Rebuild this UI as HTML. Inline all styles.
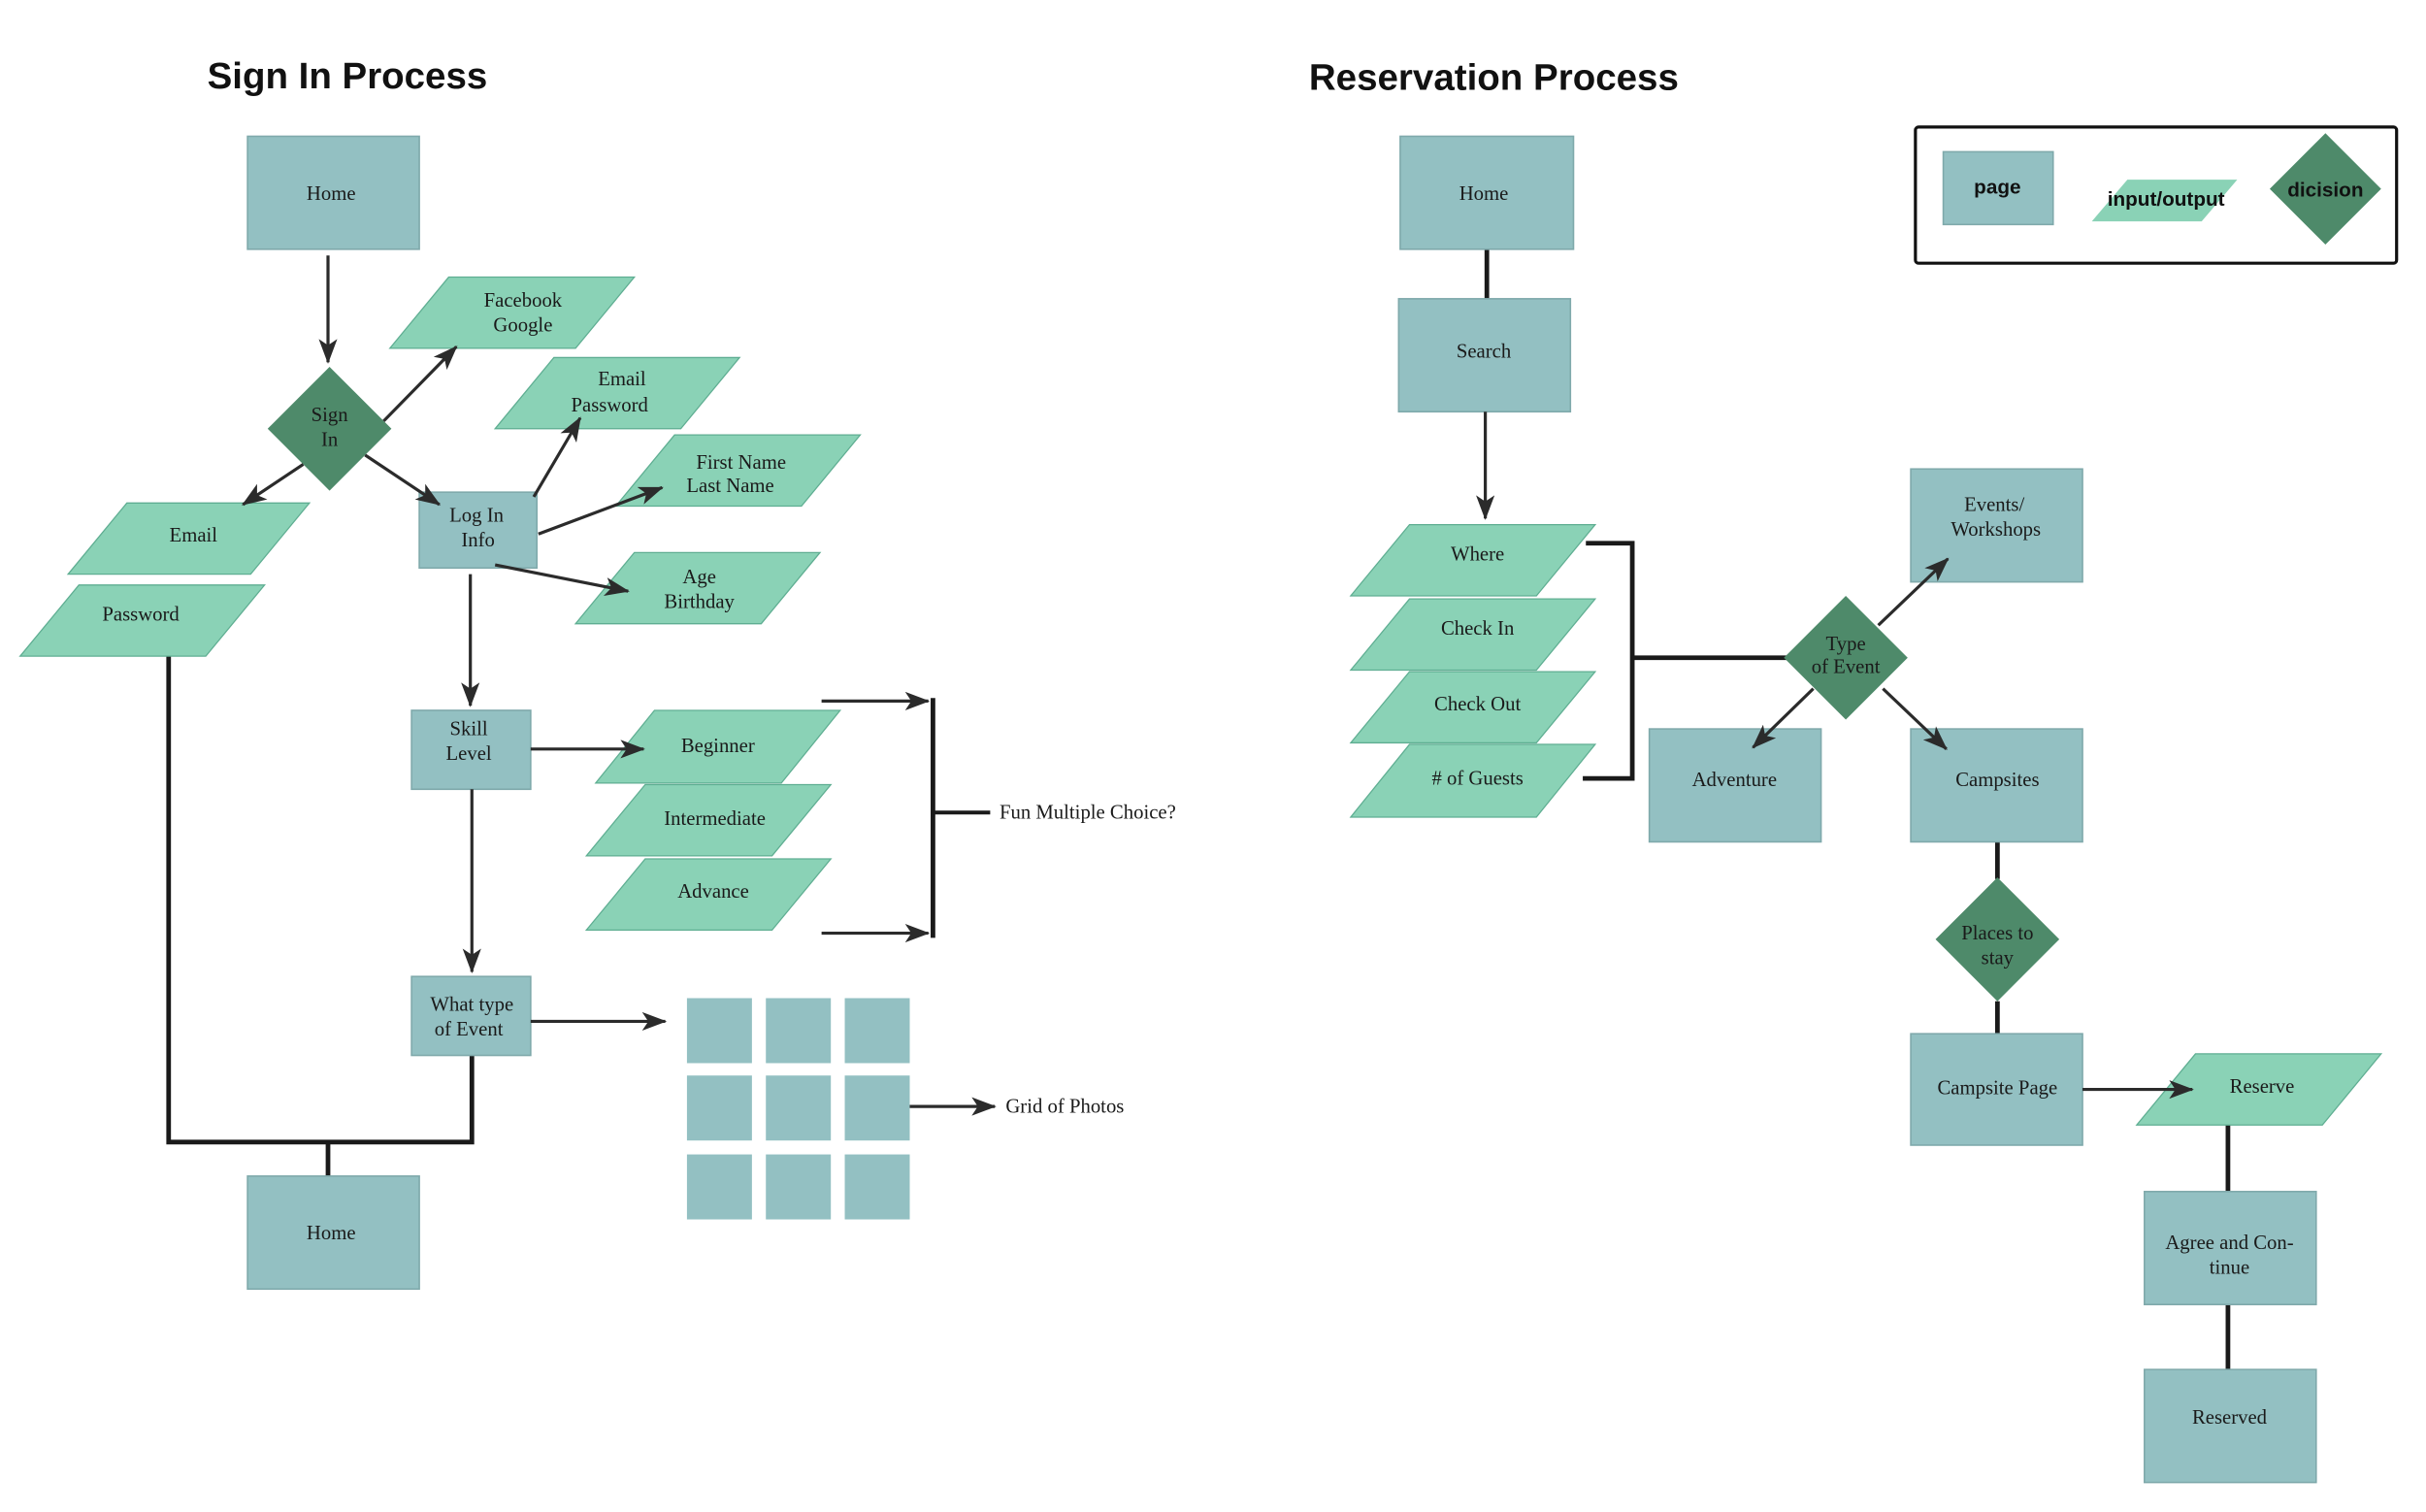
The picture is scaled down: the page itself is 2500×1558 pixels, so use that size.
<!DOCTYPE html>
<html><head><meta charset="utf-8"><style>
html,body{margin:0;padding:0;background:#fff;}
svg{display:block;}
.p{fill:#93c0c2;stroke:#7fa9ab;stroke-width:1}
.io{fill:#8ad2b6;stroke:#5fae92;stroke-width:0.8}
.d{fill:#4e8a6a}
.t{font-family:"Liberation Serif",serif;font-size:13px;fill:#1a1a1a;text-anchor:middle}
.a{stroke:#2b2b2b;stroke-width:2;fill:none;marker-end:url(#ar)}
.l{stroke:#1a1a1a;stroke-width:3;fill:none}
.h{font-family:"Liberation Sans",sans-serif;font-weight:bold;font-size:24px;fill:#111}
.b{font-family:"Liberation Sans",sans-serif;font-weight:bold;font-size:13px;fill:#111;text-anchor:middle}
</style></head><body>
<svg width="2500" height="1558" viewBox="0 0 1568 977" xmlns="http://www.w3.org/2000/svg">
<defs><marker id="ar" viewBox="0 0 16 12" refX="15" refY="6" markerWidth="16" markerHeight="12" markerUnits="userSpaceOnUse" orient="auto"><path d="M0,0 L16,6 L0,12 L4,6 z" fill="#2b2b2b"/></marker></defs>

<text class="h" x="134" y="57" textLength="181" lengthAdjust="spacingAndGlyphs">Sign In Process</text>
<text class="h" x="846" y="58" textLength="239" lengthAdjust="spacingAndGlyphs">Reservation Process</text>

<polyline class="l" points="109,420 109,738 305,738 305,682"/>
<line class="l" x1="212" y1="738" x2="212" y2="773"/>
<line class="l" x1="603" y1="451" x2="603" y2="606"/>
<line class="l" x1="603" y1="525" x2="640" y2="525" style="stroke-width:2.5"/>
<line class="l" x1="961" y1="161" x2="961" y2="193"/>
<polyline class="l" points="1025,351 1055,351 1055,503 1023,503"/>
<line class="l" x1="1055" y1="425" x2="1155" y2="425"/>
<line class="l" x1="1291" y1="544" x2="1291" y2="568"/>
<line class="l" x1="1291" y1="647" x2="1291" y2="668"/>
<line class="l" x1="1440" y1="727" x2="1440" y2="770"/>
<line class="l" x1="1440" y1="843" x2="1440" y2="885"/>

<rect class="p" x="160" y="88" width="111" height="73"/><text class="t" x="214" y="129">Home</text>
<polygon class="d" points="213,237 253,277 213,317 173,277"/>
<text class="t" x="213" y="272">Sign</text><text class="t" x="213" y="288">In</text>
<polygon class="io" points="290,179 410,179 372,225 252,225"/><text class="t" x="338" y="198">Facebook</text><text class="t" x="338" y="214">Google</text>
<polygon class="io" points="358,231 478,231 440,277 320,277"/><text class="t" x="402" y="249">Email</text><text class="t" x="394" y="266">Password</text>
<polygon class="io" points="82,325 200,325 162,371 44,371"/><text class="t" x="125" y="350">Email</text>
<polygon class="io" points="51,378 171,378 133,424 13,424"/><text class="t" x="91" y="401">Password</text>
<rect class="p" x="271" y="318" width="76" height="49"/><text class="t" x="308" y="337">Log In</text><text class="t" x="309" y="353">Info</text>
<polygon class="io" points="436,281 556,281 518,327 398,327"/><text class="t" x="479" y="303">First Name</text><text class="t" x="472" y="318">Last Name</text>
<polygon class="io" points="410,357 530,357 492,403 372,403"/><text class="t" x="452" y="377">Age</text><text class="t" x="452" y="393">Birthday</text>
<rect class="p" x="266" y="459" width="77" height="51"/><text class="t" x="303" y="475">Skill</text><text class="t" x="303" y="491">Level</text>
<polygon class="io" points="423,459 543,459 505,506 385,506"/><text class="t" x="464" y="486">Beginner</text>
<polygon class="io" points="417,507 537,507 499,553 379,553"/><text class="t" x="462" y="533">Intermediate</text>
<polygon class="io" points="417,555 537,555 499,601 379,601"/><text class="t" x="461" y="580">Advance</text>
<text class="t" x="646" y="529" style="text-anchor:start">Fun Multiple Choice?</text>
<rect class="p" x="266" y="631" width="77" height="51"/><text class="t" x="305" y="653">What type</text><text class="t" x="303" y="669">of Event</text>
<g fill="#93c0c2">
<rect x="444" y="645" width="42" height="42"/><rect x="495" y="645" width="42" height="42"/><rect x="546" y="645" width="42" height="42"/>
<rect x="444" y="695" width="42" height="42"/><rect x="495" y="695" width="42" height="42"/><rect x="546" y="695" width="42" height="42"/>
<rect x="444" y="746" width="42" height="42"/><rect x="495" y="746" width="42" height="42"/><rect x="546" y="746" width="42" height="42"/>
</g>
<text class="t" x="650" y="719" style="text-anchor:start">Grid of Photos</text>
<rect class="p" x="160" y="760" width="111" height="73"/><text class="t" x="214" y="801">Home</text>

<rect class="p" x="905" y="88" width="112" height="73"/><text class="t" x="959" y="129">Home</text>
<rect class="p" x="904" y="193" width="111" height="73"/><text class="t" x="959" y="231">Search</text>
<polygon class="io" points="911,339 1031,339 993,385 873,385"/><text class="t" x="955" y="362">Where</text>
<polygon class="io" points="911,387 1031,387 993,433 873,433"/><text class="t" x="955" y="410">Check In</text>
<polygon class="io" points="911,434 1031,434 993,480 873,480"/><text class="t" x="955" y="459">Check Out</text>
<polygon class="io" points="911,481 1031,481 993,528 873,528"/><text class="t" x="955" y="507"># of Guests</text>
<polygon class="d" points="1193,385 1233,425 1193,465 1153,425"/>
<text class="t" x="1193" y="420">Type</text><text class="t" x="1193" y="435">of Event</text>
<rect class="p" x="1235" y="303" width="111" height="73"/><text class="t" x="1289" y="330">Events/</text><text class="t" x="1290" y="346">Workshops</text>
<rect class="p" x="1066" y="471" width="111" height="73"/><text class="t" x="1121" y="508">Adventure</text>
<rect class="p" x="1235" y="471" width="111" height="73"/><text class="t" x="1291" y="508">Campsites</text>
<polygon class="d" points="1291,567 1331,607 1291,647 1251,607"/>
<text class="t" x="1291" y="607">Places to</text><text class="t" x="1291" y="623">stay</text>
<rect class="p" x="1235" y="668" width="111" height="72"/><text class="t" x="1291" y="707">Campsite Page</text>
<polygon class="io" points="1419,681 1539,681 1501,727 1381,727"/><text class="t" x="1462" y="706">Reserve</text>
<rect class="p" x="1386" y="770" width="111" height="73"/><text class="t" x="1441" y="807">Agree and Con-</text><text class="t" x="1441" y="823">tinue</text>
<rect class="p" x="1386" y="885" width="111" height="73"/><text class="t" x="1441" y="920">Reserved</text>

<rect x="1238" y="82" width="311" height="88" rx="2" fill="none" stroke="#111" stroke-width="2"/>
<rect class="p" x="1256" y="98" width="71" height="47"/><text class="b" x="1291" y="125">page</text>
<polygon class="io" points="1375,116 1446,116 1423,143 1352,143" style="stroke:none"/><text class="b" x="1400" y="133">input/output</text>
<polygon class="d" points="1503,86 1539,122 1503,158 1467,122"/><text class="b" x="1503" y="127">dicision</text>

<line class="a" x1="212" y1="165" x2="212" y2="234"/>
<line class="a" x1="248" y1="272" x2="295" y2="224"/>
<line class="a" x1="236" y1="294" x2="284" y2="326"/>
<line class="a" x1="196" y1="300" x2="157" y2="326"/>
<line class="a" x1="345" y1="321" x2="375" y2="270"/>
<line class="a" x1="348" y1="345" x2="428" y2="315"/>
<line class="a" x1="320" y1="365" x2="406" y2="382"/>
<line class="a" x1="304" y1="371" x2="304" y2="456"/>
<line class="a" x1="343" y1="484" x2="416" y2="484"/>
<line class="a" x1="531" y1="453" x2="600" y2="453"/>
<line class="a" x1="531" y1="603" x2="600" y2="603"/>
<line class="a" x1="305" y1="510" x2="305" y2="628"/>
<line class="a" x1="343" y1="660" x2="430" y2="660"/>
<line class="a" x1="588" y1="715" x2="643" y2="715"/>
<line class="a" x1="960" y1="266" x2="960" y2="335"/>
<line class="a" x1="1214" y1="404" x2="1259" y2="361"/>
<line class="a" x1="1172" y1="445" x2="1133" y2="483"/>
<line class="a" x1="1217" y1="445" x2="1258" y2="484"/>
<line class="a" x1="1346" y1="704" x2="1417" y2="704"/>
</svg>
</body></html>
